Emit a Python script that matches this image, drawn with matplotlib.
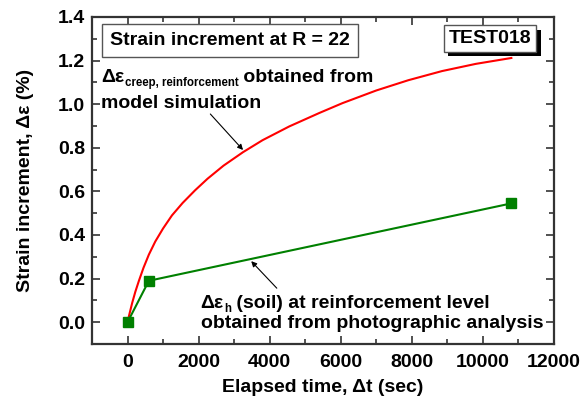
import matplotlib
matplotlib.use("Agg")
import matplotlib.pyplot as plt
from matplotlib.ticker import MultipleLocator
from matplotlib import patheffects

plt.rcParams['font.family'] = ['Liberation Sans', 'DejaVu Sans']
plt.rcParams['font.weight'] = 'bold'

FS = 14
SUB_FS = 8.3

# Model simulation: creep strain of the reinforcement
model_time = [0, 50, 130, 220, 320, 450, 600, 780, 1000, 1250, 1550, 1900,
              2250, 2700, 3250, 3800, 4550, 5400, 6050, 7000, 7900, 8850,
              9800, 10800]
model_strain = [0.0, 0.035, 0.088, 0.14, 0.19, 0.25, 0.31, 0.37, 0.43,
                0.49, 0.547, 0.605, 0.658, 0.718, 0.78, 0.835, 0.898, 0.96,
                1.005, 1.063, 1.11, 1.152, 1.185, 1.212]

# Photographic analysis: soil strain at reinforcement level
photo_time = [0, 600, 10800]
photo_strain = [0.0, 0.19, 0.545]

fig = plt.figure(figsize=(5.88, 4.05), dpi=100)
ax = fig.add_axes([92 / 588, 61 / 405, 462 / 588, 327 / 405])

ax.plot(model_time, model_strain, color='#ff0000', lw=1.5, zorder=3,
        solid_joinstyle='round')
ax.plot(photo_time, photo_strain, color='#008000', lw=1.5, marker='s',
        ms=7.5, mfc='#008000', mec='#008000', zorder=4)

ax.set_xlim(-1000, 12000)
ax.set_ylim(-0.1, 1.4)
ax.xaxis.set_minor_locator(MultipleLocator(1000))
ax.yaxis.set_minor_locator(MultipleLocator(0.1))
ax.set_yticks([0.0, 0.2, 0.4, 0.6, 0.8, 1.0, 1.2, 1.4])
ax.set_yticklabels(['0.0', '0.2', '0.4', '0.6', '0.8', '1.0', '1.2', '1.4'])
ax.set_xticks([0, 2000, 4000, 6000, 8000, 10000, 12000])
ax.set_xticklabels(['0', '2000', '4000', '6000', '8000', '10000', '12000'])

ax.tick_params(which='both', direction='in', top=True, right=True,
               labelsize=FS, width=1.2, color='#333333')
ax.tick_params(axis='x', pad=7)
ax.tick_params(axis='y', pad=5)
ax.tick_params(which='major', length=6)
ax.tick_params(which='minor', length=3.5)
for s in ax.spines.values():
    s.set_linewidth(1.6)
    s.set_color('#333333')

ax.set_xlabel('Elapsed time, Δt (sec)', fontsize=FS, fontweight='bold',
              labelpad=6)
ax.set_ylabel('Strain increment, Δε (%)', fontsize=FS, fontweight='bold',
              labelpad=17)

# Title box
ax.text(0.039, 0.929, 'Strain increment at R = 22', transform=ax.transAxes,
        fontsize=FS, fontweight='bold', ha='left', va='center',
        bbox=dict(boxstyle='square,pad=0.42', fc='white', ec='#555555', lw=1.0),
        zorder=6)

# Test identifier with drop shadow
t = ax.text(0.861, 0.935, 'TEST018', transform=ax.transAxes,
            fontsize=FS, fontweight='bold', ha='center', va='center',
            bbox=dict(boxstyle='square,pad=0.25', fc='white', ec='#555555', lw=1.0),
            zorder=6)
t.get_bbox_patch().set_path_effects([
    patheffects.withSimplePatchShadow(offset=(3.5, -3.5), shadow_rgbFace='black',
                                      alpha=1.0)])


def label_with_subscript(x, y, main, sub, rest):
    """Bold label 'main' + lowered small 'sub' + 'rest' on one line."""
    t1 = ax.text(x, y, main, transform=ax.transAxes, fontsize=FS,
                 fontweight='bold', ha='left', va='bottom', zorder=6)
    t2 = ax.annotate(sub, xy=(1, 0), xycoords=t1, xytext=(0.5, -2.2),
                     textcoords='offset points', fontsize=SUB_FS,
                     fontweight='bold', ha='left', va='bottom', zorder=6)
    ax.annotate(rest, xy=(1, 0), xycoords=(t2, t1), xytext=(0, 0),
                textcoords='offset points', fontsize=FS,
                fontweight='bold', ha='left', va='bottom', zorder=6)


# Annotation for the model curve
label_with_subscript(0.019, 0.788, 'Δε', 'creep, reinforcement', ' obtained from')
ax.text(0.019, 0.735, 'model simulation', transform=ax.transAxes,
        fontsize=FS, fontweight='bold', ha='left', va='center', zorder=6)
ax.annotate('', xy=(3250, 0.79), xytext=(2330, 0.955),
            arrowprops=dict(arrowstyle='-|>', color='black', lw=0.8,
                            mutation_scale=8, shrinkA=0, shrinkB=0))

# Annotation for the photographic data
label_with_subscript(0.235, 0.097, 'Δε', 'h', ' (soil) at reinforcement level')
ax.text(0.235, 0.064, 'obtained from photographic analysis',
        transform=ax.transAxes, fontsize=FS, fontweight='bold',
        ha='left', va='center', zorder=6)
ax.annotate('', xy=(3480, 0.28), xytext=(4200, 0.156),
            arrowprops=dict(arrowstyle='-|>', color='black', lw=0.8,
                            mutation_scale=8, shrinkA=0, shrinkB=0))

fig.savefig('out.png', dpi=100)
